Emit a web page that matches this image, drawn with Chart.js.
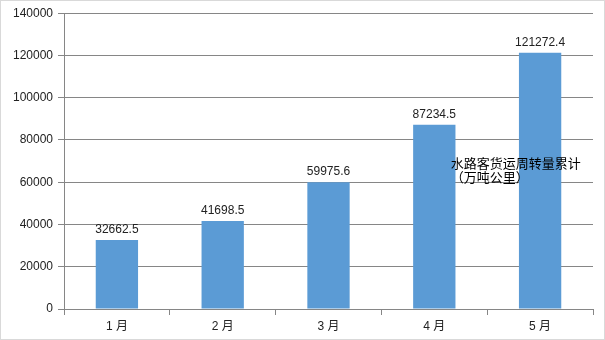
<!DOCTYPE html>
<html>
<head>
<meta charset="utf-8">
<script src="https://cdn.jsdelivr.net/npm/chart.js@4.4.0/dist/chart.umd.min.js"></script>
<style>
  html, body { margin: 0; padding: 0; background: #fff; }
  #wrap { position: relative; width: 603px; height: 338px; border: 1px solid #d9d9d9; }
</style>
</head>
<body>
<div id="wrap"><canvas id="myChart" width="603" height="338"></canvas></div>
<script>
// data
const months = ['1月', '2月', '3月', '4月', '5月'];
const turnover = [32662.5, 41698.5, 59975.6, 87234.5, 121272.4];
const seriesName = ['水路客货运周转量累计', '（万吨公里）'];

const font = "'Liberation Sans', 'Noto Sans CJK SC', sans-serif";

// numbers above the bars
const valueLabels = {
    id: 'valueLabels',
    afterDatasetsDraw(chart) {
        const ctx = chart.ctx;
        const meta = chart.getDatasetMeta(0);
        ctx.save();
        ctx.font = '12px ' + font;
        ctx.fillStyle = '#222';
        ctx.textAlign = 'center';
        ctx.textBaseline = 'alphabetic';
        meta.data.forEach((bar, i) => {
            ctx.fillText(String(turnover[i]), bar.x, bar.y - 7);
        });
        ctx.restore();
    }
};

// series name sits inside the plot, right side
const seriesLabel = {
    id: 'seriesLabel',
    afterDraw(chart) {
        const ctx = chart.ctx;
        const a = chart.chartArea;
        ctx.save();
        ctx.font = '13px ' + font;
        ctx.fillStyle = '#000';
        ctx.textAlign = 'left';
        ctx.textBaseline = 'middle';
        const x = a.left + (a.right - a.left) * 0.731;
        const y = chart.scales.y.getPixelForValue(68200);
        ctx.fillText(seriesName[0], x, y);
        ctx.fillText(seriesName[1], x, y + 14);
        ctx.restore();
    }
};

const config = {
    type: 'bar',
    data: {
        labels: months,
        datasets: [{
            label: seriesName.join(''),
            data: turnover,
            backgroundColor: '#5b9bd5',
            borderWidth: 0,
            barPercentage: 0.4,
            categoryPercentage: 1.0
        }]
    },
    options: {
        responsive: false,
        animation: false,
        layout: { padding: { top: 12, right: 11, bottom: 0, left: 0 } },
        plugins: {
            legend: { display: false },
            tooltip: { enabled: false }
        },
        scales: {
            x: {
                grid: { drawOnChartArea: false, drawTicks: true, tickLength: 6, color: '#868686', offset: true },
                border: { color: '#868686' },
                ticks: {
                    color: '#222',
                    font: { size: 12, family: font },
                    padding: 4,
                    callback: (v, i) => months[i].replace('月', ' 月')
                },
                afterFit(scale) { scale.height = 30; }
            },
            y: {
                min: 0,
                max: 140000,
                ticks: {
                    stepSize: 20000,
                    color: '#222',
                    font: { size: 12, family: font },
                    padding: 5,
                    callback: v => String(v)
                },
                grid: { color: '#868686', tickLength: 6 },
                border: { color: '#868686' },
                afterFit(scale) { scale.width = 63; }
            }
        }
    },
    plugins: [valueLabels, seriesLabel]
};

new Chart(document.getElementById('myChart'), config);
</script>
</body>
</html>
